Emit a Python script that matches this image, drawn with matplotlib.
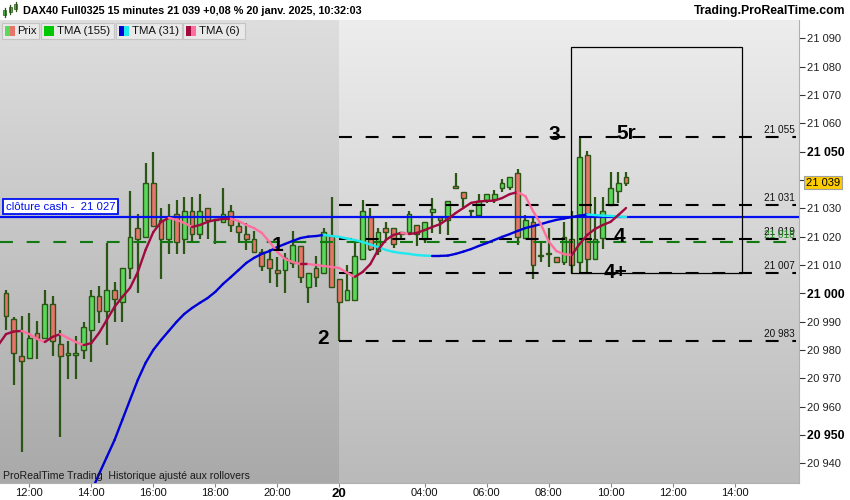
import matplotlib
matplotlib.use("Agg")
import matplotlib.pyplot as plt
import numpy as np
from matplotlib.collections import LineCollection
from matplotlib.patches import Rectangle
from matplotlib.colors import LinearSegmentedColormap
from matplotlib import font_manager
import matplotlib.transforms as mtrans

# ---------------- data ----------------
first_index = -3  # candle index of first visible candle (11:15 Fri); index 0 = 12:00
opens = [21000.0, 20990.8, 20978.0, 20977.0, 20985.9, 20984.1, 20996.1, 20982.0, 20978.1, 20978.1,
         20980.0, 20987.0, 20999.0, 20993.9, 21001.0, 20997.0, 21008.8, 21022.9, 21019.7, 21038.8,
         21025.9, 21019.0, 21027.9, 21019.0, 21029.0, 21020.9, 21030.0, 21026.3, 21025.0, 21029.0,
         21023.9, 21020.8, 21019.0, 21014.7, 21012.0, 21008.2, 21008.2, 21010.8, 21016.8, 21002.1,
         21008.8, 21007.0, 21020.2, 21004.9, 20997.8, 20997.8, 21012.0, 21027.0, 21015.0, 21022.9,
         21022.9, 21020.8, 21021.7, 21024.0, 21019.3, 21028.8, 21026.8, 21025.8, 21037.8, 21035.8,
         21029.2, 21027.8, 21032.9, 21033.1, 21037.0, 21037.6, 21042.6, 21019.4, 21025.3, 21013.3,
         21014.0, 21012.9, 21011.1, 21019.2, 21011.0, 21048.8, 21012.0, 21019.4, 21031.2, 21036.1,
         21040.9]
closes = [20992.0, 20978.8, 20976.0, 20984.1, 20984.1, 20996.1, 20983.2, 20978.0, 20978.9, 20978.9,
          20988.0, 20999.0, 20993.9, 21001.0, 20997.9, 21008.8, 21019.7, 21019.0, 21038.8, 21023.7,
          21019.0, 21026.4, 21018.0, 21029.0, 21020.9, 21029.0, 21025.9, 21026.0, 21028.0, 21024.1,
          21021.7, 21019.0, 21014.7, 21009.7, 21008.8, 21007.0, 21012.3, 21017.0, 21005.8, 21007.0,
          21005.8, 21021.7, 21002.2, 20996.8, 21001.0, 21013.1, 21029.0, 21015.5, 21021.7, 21021.7,
          21017.5, 21021.7, 21027.9, 21020.9, 21025.0, 21029.9, 21025.8, 21032.6, 21037.0, 21033.8,
          21029.0, 21032.6, 21034.9, 21035.2, 21038.8, 21040.9, 21020.0, 21026.0, 21010.0, 21013.0,
          21014.2, 21010.9, 21019.8, 21010.0, 21048.0, 21012.2, 21019.0, 21029.2, 21037.1, 21038.8,
          21039.0]
highs = [21001.2, 20991.5, 20992.0, 20992.9, 20990.2, 21001.2, 20999.1, 20987.0, 20983.2, 20984.9,
         20990.0, 21001.2, 21002.6, 21017.9, 21004.0, 21008.8, 21036.1, 21028.0, 21045.9, 21049.7,
         21030.0, 21031.4, 21032.9, 21033.9, 21033.9, 21035.0, 21030.0, 21026.3, 21037.0, 21031.1,
         21025.3, 21024.9, 21022.0, 21015.8, 21015.8, 21012.7, 21014.1, 21022.0, 21016.8, 21007.0,
         21013.1, 21022.9, 21033.9, 21004.9, 21010.0, 21018.0, 21032.9, 21030.0, 21023.0, 21025.2,
         21023.0, 21021.7, 21029.0, 21024.0, 21025.0, 21033.8, 21026.8, 21032.6, 21042.6, 21035.8,
         21029.2, 21034.9, 21034.9, 21036.4, 21040.5, 21040.9, 21043.7, 21027.5, 21026.4, 21017.6,
         21023.0, 21012.9, 21025.3, 21029.0, 21054.7, 21050.2, 21034.1, 21034.1, 21042.9, 21042.9,
         21042.9]
lows = [20987.0, 20967.6, 20944.1, 20977.0, 20976.8, 20984.0, 20977.9, 20949.1, 20969.9, 20969.9,
        20976.8, 20975.9, 20989.4, 20981.7, 20990.0, 20990.0, 21004.9, 21000.0, 21019.7, 21023.7,
        21004.9, 21013.7, 21013.7, 21013.7, 21017.6, 21019.0, 21019.0, 21017.4, 21025.0, 21021.7,
        21017.6, 21015.3, 21014.7, 21008.0, 21003.5, 21002.1, 21000.0, 21008.8, 21003.7, 20996.7,
        21002.3, 21007.0, 21002.2, 20983.0, 20997.8, 20997.8, 21012.0, 21015.0, 21013.5, 21018.8,
        21016.0, 21019.0, 21021.0, 21016.6, 21017.6, 21021.1, 21020.9, 21020.6, 21037.0, 21030.5,
        21027.0, 21027.8, 21031.7, 21031.7, 21035.8, 21036.4, 21017.0, 21019.0, 21005.0, 21011.1,
        21009.4, 21010.8, 21010.0, 21007.0, 21007.6, 21007.0, 21012.0, 21015.5, 21031.2, 21031.8,
        21037.9]

tma6_first = -4
tma6 = [20981.7, 20985.6, 20986.5, 20986.7, 20985.6, 20983.9, 20982.8, 20984.6, 20985.6, 20984.2,
        20982.8, 20981.7, 20982.4, 20986.0, 20990.6, 20995.2, 20998.7, 21001.9, 21007.5, 21015.3,
        21021.6, 21025.2, 21026.6, 21025.9, 21024.8, 21023.4, 21024.1, 21025.2, 21025.9, 21026.2,
        21026.3, 21025.5, 21024.1, 21023.0, 21021.3, 21018.1, 21014.6, 21012.1, 21011.0, 21010.3,
        21010.3, 21010.0, 21009.6, 21009.3, 21008.9, 21007.2, 21005.8, 21007.5, 21010.3, 21015.3,
        21018.8, 21020.6, 21021.3, 21020.9, 21021.3, 21022.3, 21023.4, 21024.4, 21026.2, 21028.3,
        21030.1, 21031.9, 21032.4, 21032.6, 21032.7, 21033.6, 21035.0, 21035.7, 21034.3, 21029.0,
        21024.4, 21018.4, 21014.9, 21013.8, 21013.5, 21017.4, 21020.6, 21022.7, 21024.1, 21025.2,
        21027.6, 21030.1]

tma31_first = 8
tma31 = [20929.9, 20936.2, 20942.2, 20948.2, 20955.3, 20962.4, 20969.4, 20975.4, 20980.0, 20983.5,
         20986.7, 20989.9, 20992.7, 20994.8, 20996.6, 20998.3, 21000.5, 21003.3, 21005.7, 21008.2,
         21010.7, 21012.5, 21013.9, 21014.9, 21016.3, 21017.4, 21018.5, 21019.5, 21020.0, 21020.2,
         21020.6, 21020.2, 21019.9, 21019.3, 21018.8, 21018.1, 21017.2, 21016.3, 21015.3, 21014.6,
         21014.2, 21013.9, 21013.5, 21013.3, 21013.2, 21013.2, 21013.3, 21013.9, 21014.7, 21015.6,
         21016.7, 21017.7, 21018.8, 21019.9, 21020.9, 21022.0, 21023.0, 21023.7, 21024.4, 21025.2,
         21025.9, 21026.4, 21026.9, 21027.4, 21027.8, 21027.6, 21027.4, 21027.3, 21027.1, 21026.9]

cash_close = 21027
green_level = 21018
black_levels = [21055, 21031, 21019, 21007, 20983]
levels_start = 40          # first candle of Jan 20 session
day_split = 39.9
box_x0, box_x1, box_top, box_bottom = 69.9, 92.0, 21087, 21007
wave_labels = [("1", 32.0, 21017.0), ("2", 37.9, 20984.0), ("3", 67.7, 21056.0),
               ("5r", 77.0, 21056.5), ("4", 76.1, 21020.0), ("4+", 75.7, 21007.5)]
xtick_pos = [0, 8, 16, 24, 32, 40, 51, 59, 67, 75, 83, 91]
xtick_lab = ["12:00", "14:00", "16:00", "18:00", "20:00", "20", "04:00", "06:00", "08:00",
             "10:00", "12:00", "14:00"]
title = "DAX40 Full0325 15 minutes 21 039 +0,08 % 20 janv. 2025, 10:32:03"

# ---------------- style ----------------
names = {f.name for f in font_manager.fontManager.ttflist}
SANS = "Liberation Sans" if "Liberation Sans" in names else "DejaVu Sans"
NARROW = "Liberation Sans Narrow" if "Liberation Sans Narrow" in names else SANS
plt.rcParams["font.family"] = [SANS, "DejaVu Sans"]

UP = "#5ad85a"
DOWN = "#e8756b"
WICK = "#2b5514"
DARKRED = "#a00a3e"
PINK = "#ff6f9e"
BLUE = "#0000d8"
CYAN = "#1de9ee"

fig = plt.figure(figsize=(8.5, 5), dpi=100)
fig.patch.set_facecolor("white")
ax = fig.add_axes([0, 17 / 500, 799 / 850, 463 / 500])
xmin, xmax = -3.781, 99.316
ymin, ymax = 20933.03, 21096.46
ax.set_xlim(xmin, xmax)
ax.set_ylim(ymin, ymax)

# background gradients
grad = np.linspace(0, 1, 256).reshape(-1, 1)
cm_left = LinearSegmentedColormap.from_list("l", ["#a9a9a9", "#dedede"])
cm_right = LinearSegmentedColormap.from_list("r", ["#bababa", "#ededed"])
ax.imshow(grad, cmap=cm_left, origin="lower", aspect="auto",
          extent=(xmin, day_split, ymin, ymax), zorder=0)
ax.imshow(grad, cmap=cm_right, origin="lower", aspect="auto",
          extent=(day_split, xmax, ymin, ymax), zorder=0)

idx = np.arange(first_index, first_index + len(opens))
o = np.array(opens); c = np.array(closes); h = np.array(highs); l = np.array(lows)

# wicks
ax.vlines(idx, l, h, color=WICK, lw=1.6, zorder=3)
# bodies
bw = 0.6
for i, oo, cc in zip(idx, o, c):
    col = UP if cc >= oo else DOWN
    bot = min(oo, cc)
    hh = max(abs(cc - oo), 0.35)
    ax.add_patch(Rectangle((i - bw / 2, bot), bw, hh, facecolor=col, edgecolor=WICK,
                           lw=1.0, zorder=4))

# dashed levels
dash = (0, (6.2, 6.6))
lvl_end = 98.9
ax.hlines(green_level, xmin, lvl_end, colors="#107a10", lw=1.5, linestyles=[dash], zorder=5)
for lv in black_levels:
    ax.hlines(lv, levels_start, lvl_end, colors="black", lw=1.5, linestyles=[dash], zorder=5)
ax.axhline(cash_close, color="#0010f0", lw=1.6, zorder=6)

# box
ax.add_patch(Rectangle((box_x0, box_bottom), box_x1 - box_x0, box_top - box_bottom,
                       fill=False, edgecolor="black", lw=0.9, zorder=6))

def colored_line(xs, ys, up_col, dn_col, lw):
    xs = np.asarray(xs, float); ys = np.asarray(ys, float)
    pts = np.column_stack([xs, ys])
    segs = np.stack([pts[:-1], pts[1:]], axis=1)
    cols = [up_col if ys[k + 1] >= ys[k] else dn_col for k in range(len(ys) - 1)]
    lc = LineCollection(segs, colors=cols, linewidths=lw, zorder=7, capstyle="round")
    ax.add_collection(lc)

colored_line(np.arange(tma31_first, tma31_first + len(tma31)), tma31, BLUE, CYAN, 1.7)
colored_line(np.arange(tma6_first, tma6_first + len(tma6)), tma6, DARKRED, PINK, 1.7)

# wave labels
for txt, xi, yv in wave_labels:
    ax.text(xi, yv, txt, fontsize=15, fontweight="bold", color="black",
            ha="center", va="center", zorder=9)

# right-edge level labels
blend = mtrans.blended_transform_factory(ax.transAxes, ax.transData)
fmt = lambda v: f"{int(v):,}".replace(",", " ")
for lv in black_levels:
    ax.annotate(fmt(lv), xy=(779 / 799, lv), xycoords=blend, xytext=(0, 1.5),
                textcoords="offset points", ha="center", va="bottom", fontsize=7.2,
                color="#111111", zorder=9)
ax.annotate(fmt(green_level), xy=(779 / 799, green_level), xycoords=blend, xytext=(0, 1.5),
            textcoords="offset points", ha="center", va="bottom", fontsize=7.2,
            color="#1a8a1a", zorder=9)

# cash label box
ax.annotate(f"clôture cash -  {fmt(cash_close)}", xy=(0.004, cash_close), xycoords=blend,
            xytext=(2, 3.5), textcoords="offset points", ha="left", va="bottom",
            fontsize=8.2, color="#0010f0", zorder=10,
            bbox=dict(boxstyle="square,pad=0.22", fc="white", ec="#0010f0", lw=1.3))

# y axis on right
ax.yaxis.tick_right()
yt = list(range(20940, 21091, 10))
ax.set_yticks(yt)
ax.set_yticklabels([fmt(v) for v in yt])
ax.tick_params(axis="y", direction="out", length=4, width=0.8, colors="#333333",
               labelsize=8, pad=1.5, labelcolor="#222222")
for lab, v in zip(ax.get_yticklabels(), yt):
    if v % 50 == 0:
        lab.set_fontweight("bold")
        lab.set_fontsize(8.8)
        lab.set_color("black")

# x axis
ax.set_xticks(xtick_pos)
ax.set_xticklabels(xtick_lab)
ax.tick_params(axis="x", direction="out", length=3, width=0.8, colors="#888888",
               labelsize=8, pad=0.8, labelcolor="#111111")
for lab in ax.get_xticklabels():
    if lab.get_text() == "20":
        lab.set_fontweight("bold")
        lab.set_fontsize(9.5)
        lab.set_color("black")
    else:
        lab.set_fontfamily(NARROW)

for s in ["top", "left"]:
    ax.spines[s].set_visible(False)
ax.spines["right"].set_color("#b0b0b0")
ax.spines["bottom"].set_color("#b0b0b0")

# current price marker on axis
ax.annotate(fmt(closes[-1]), xy=(1.0, closes[-1]), xycoords=blend, xytext=(5, 0),
            textcoords="offset points", ha="left", va="center", fontsize=8, color="black",
            zorder=20, annotation_clip=False,
            bbox=dict(boxstyle="square,pad=0.15", fc="#ffcc00", ec="#a0a0a0", lw=0.8))

# ---------------- overlay (header, legend) ----------------
ov = fig.add_axes([0, 0, 1, 1], zorder=10)
ov.set_xlim(0, 850); ov.set_ylim(500, 0); ov.axis("off")
ov.patch.set_alpha(0)

# header icon
for x0, yb0, yb1, yw0, yw1 in [(5, 10, 15, 8, 17), (10.5, 7, 12, 5, 14), (16, 4, 9, 2, 11)]:
    ov.plot([x0, x0], [yw0, yw1], color=WICK, lw=0.9)
    ov.add_patch(Rectangle((x0 - 1.5, yb0), 3, yb1 - yb0, fc="#44c044", ec=WICK, lw=0.5))
ov.text(23, 11, title, fontsize=7.8, fontweight="bold", ha="left", va="center", color="black")
ov.text(845, 11, "Trading.ProRealTime.com", fontsize=8.8, fontweight="bold", ha="right",
        va="center", color="black")

# legend boxes
legend_items = [("Prix", 2.5, 39.3, (UP, DOWN)), ("TMA (155)", 40.7, 114, ("#00c800", "#00c800")),
                ("TMA (31)", 115.7, 181.7, (BLUE, CYAN)), ("TMA (6)", 183.3, 245, (DARKRED, PINK))]
for name, x0, x1, (c1, c2) in legend_items:
    ov.add_patch(Rectangle((x0, 22.5), x1 - x0, 16, fc="#e9e9e9", ec="#c4c4c4", lw=0.8))
    ov.add_patch(Rectangle((x0 + 3, 25.5), 5, 10, fc=c1, ec="none"))
    ov.add_patch(Rectangle((x0 + 8, 25.5), 5, 10, fc=c2, ec="none"))
    ov.text(x0 + (15 if name == "Prix" else 16), 30.8, name, fontsize=8.2, ha="left",
            va="center", color="#111111")

ov.text(3, 476, "ProRealTime Trading  Historique ajusté aux rollovers", fontsize=7.6,
        family=NARROW, ha="left", va="center", color="#1a1a1a")

fig.savefig("out.png", dpi=100)
